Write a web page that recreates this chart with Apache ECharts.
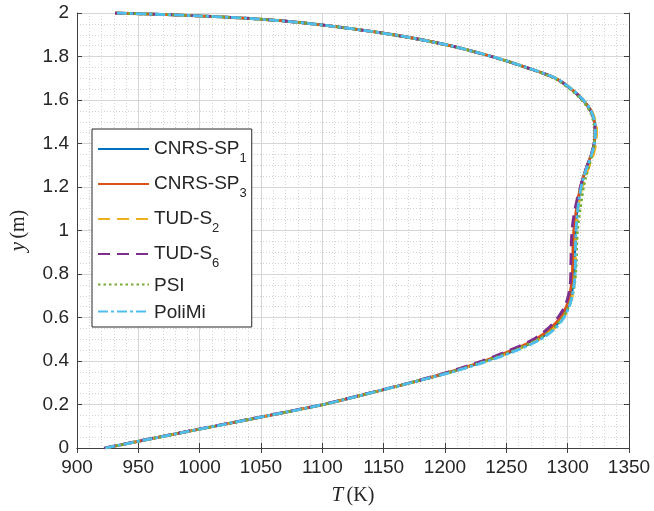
<!DOCTYPE html>
<html>
<head>
<meta charset="utf-8">
<script src="https://cdn.jsdelivr.net/npm/echarts@6/dist/echarts.min.js"></script>
<style>
html, body { margin: 0; padding: 0; background: #fff; }
#chart { width: 654px; height: 511px; }
</style>
</head>
<body>
<div id="chart"></div>
<script>
// heights (m), shared by every profile
const heights = [0, 0.05, 0.1, 0.15, 0.2, 0.25, 0.3, 0.35, 0.4, 0.45,
    0.5, 0.55, 0.6, 0.65, 0.7, 0.75, 0.8, 0.85, 0.9, 0.95,
    1.0, 1.05, 1.1, 1.15, 1.2, 1.25, 1.3, 1.35, 1.4, 1.45,
    1.5, 1.55, 1.6, 1.65, 1.7, 1.75, 1.8, 1.85, 1.9, 1.95,
    1.975, 1.99, 2.0];

// temperatures (K) per case
const tCnrsSp1 = [923, 967, 1012, 1057, 1101, 1137, 1172, 1205, 1233, 1257,
    1276, 1288, 1295.5, 1300, 1302.8, 1304.3, 1305.2, 1305.5, 1305.6, 1305.8,
    1306.1, 1306.9, 1307.8, 1309, 1310.7, 1313, 1316, 1319.3, 1321.6, 1322.4,
    1321.8, 1318.8, 1312.5, 1303, 1290, 1266, 1238, 1204, 1158, 1092,
    1040, 985, 931];
const tCnrsSp3 = [923, 967, 1012, 1057, 1101, 1137, 1172, 1204, 1232, 1255,
    1274, 1286, 1294, 1299, 1301.5, 1303, 1303.8, 1304, 1304.2, 1304.5,
    1305, 1306, 1307.2, 1308.6, 1310.5, 1313, 1316, 1319.3, 1321.6, 1322.4,
    1321.8, 1318.8, 1312.5, 1303, 1290, 1266, 1238, 1204, 1158, 1092,
    1040, 985, 931];
const tTudS2 = [923, 967, 1012, 1057, 1101, 1137, 1172, 1205, 1234, 1258,
    1277, 1289, 1296.5, 1301, 1303.8, 1305.2, 1306, 1306.3, 1306.4, 1306.6,
    1306.9, 1307.6, 1308.5, 1309.8, 1311.8, 1314.5, 1317.8, 1321, 1323, 1323.6,
    1322.8, 1319.5, 1313, 1303.5, 1290.5, 1266.5, 1238.5, 1204, 1158, 1092,
    1040, 985, 931];
const tTudS6 = [922, 966, 1011, 1056, 1100, 1136, 1171, 1203, 1230, 1253,
    1272, 1284, 1292, 1297.5, 1300.5, 1302, 1302.5, 1302.6, 1302.8, 1303,
    1303.5, 1304.5, 1306, 1308, 1310.3, 1313, 1316, 1319.3, 1321.6, 1322.4,
    1321.8, 1318.8, 1312.5, 1303, 1290, 1266, 1238, 1204, 1158, 1092,
    1040, 985, 931];
const tPsi = [923, 967, 1012, 1057, 1101, 1137, 1172, 1205, 1233, 1257,
    1276, 1288.5, 1296, 1300.8, 1303.8, 1305.5, 1306.5, 1307, 1307.2, 1307.5,
    1308, 1309, 1310.2, 1311.5, 1313, 1315, 1317.5, 1320, 1321.8, 1322.2,
    1321.2, 1318, 1311.5, 1302, 1289, 1265.5, 1238, 1204, 1158, 1092,
    1040, 985, 931];
const tPoliMi = [923, 967, 1012, 1057, 1101, 1137, 1172, 1206, 1235, 1259,
    1278, 1290, 1297, 1301.3, 1303.8, 1305.2, 1306, 1306.3, 1306.3, 1306.5,
    1306.8, 1307.5, 1308.3, 1309.4, 1311, 1313.3, 1316.3, 1319.5, 1321.8, 1322.6,
    1322, 1319, 1312.8, 1303.3, 1290.3, 1266.3, 1238.3, 1204, 1158, 1092,
    1040, 985, 931];

const caseNames = ['CNRS-SP1', 'CNRS-SP3', 'TUD-S2', 'TUD-S6', 'PSI', 'PoliMi'];
const legendLabels = {
    'CNRS-SP1': '{m|CNRS-SP}{s|1}',
    'CNRS-SP3': '{m|CNRS-SP}{s|3}',
    'TUD-S2': '{m|TUD-S}{s|2}',
    'TUD-S6': '{m|TUD-S}{s|6}',
    'PSI': '{n|PSI}',
    'PoliMi': '{n|PoliMi}'
};
const caseTemps = [tCnrsSp1, tCnrsSp3, tTudS2, tTudS6, tPsi, tPoliMi];
const caseColors = ['#0072BD', '#D95319', '#EDB120', '#7E2F8E', '#77AC30', '#4DBEEE'];
const caseDash = ['solid', 'solid', [12, 7], [12, 7], [2.5, 3], [10, 3, 3, 3]];

const textColor = '#262626';
const font = 'Liberation Sans, Arial, Helvetica, sans-serif';
const serif = 'Liberation Serif, DejaVu Serif, serif';

const series = caseNames.map((name, i) => ({
    name: name,
    type: 'line',
    xAxisIndex: 0,
    yAxisIndex: 0,
    data: heights.map((h, k) => [caseTemps[i][k], h]),
    showSymbol: false,
    symbol: 'none',
    smooth: 0.3,
    lineStyle: { color: caseColors[i], width: 2.8, type: caseDash[i] },
    itemStyle: { color: caseColors[i] },
    z: 2 + i
}));

const gridLine = { show: true, lineStyle: { color: '#d6d6d6', width: 1 } };
const minorLine = { show: true, lineStyle: { color: '#d4d4d4', width: 1, type: [1, 2] } };
const frameLine = { show: true, lineStyle: { color: '#404040', width: 1 } };
const tick = { show: true, inside: true, length: 5, lineStyle: { color: '#404040' } };

const chart = echarts.init(document.getElementById('chart'));
chart.setOption({
    animation: false,
    backgroundColor: '#fff',
    grid: { left: 74, right: 25, top: 13, bottom: 63 },
    legend: {
        orient: 'vertical',
        left: 92,
        top: 129,
        data: caseNames,
        backgroundColor: '#fff',
        borderColor: '#262626',
        borderWidth: 1,
        padding: [3, 5, 3, 5],
        itemGap: 2,
        itemWidth: 51,
        itemHeight: 20,
        itemStyle: { opacity: 0 },
        lineStyle: { width: 2 },
        formatter: (name) => legendLabels[name],
        textStyle: {
            color: textColor,
            fontFamily: font,
            fontSize: 19,
            rich: {
                m: { fontFamily: font, fontSize: 19, color: textColor, lineHeight: 34, verticalAlign: 'middle' },
                s: { fontFamily: font, fontSize: 13, color: textColor, lineHeight: 14, padding: [20, 0, 0, 0], verticalAlign: 'top' },
                n: { fontFamily: font, fontSize: 19, color: textColor, lineHeight: 19, padding: [4, 0, 2, 0] }
            }
        }
    },
    xAxis: [{
        type: 'value',
        min: 900, max: 1350, interval: 50,
        position: 'bottom',
        name: '{i|T} {r|(K)}',
        nameLocation: 'middle',
        nameGap: 37,
        nameTextStyle: {
            rich: {
                i: { fontFamily: serif, fontStyle: 'italic', fontSize: 21, color: textColor },
                r: { fontFamily: serif, fontSize: 20, color: textColor }
            }
        },
        axisLine: frameLine,
        axisTick: tick,
        axisLabel: { color: textColor, fontFamily: font, fontSize: 19, margin: 10, formatter: (v) => String(v) },
        splitLine: gridLine,
        minorTick: { show: false, splitNumber: 5 },
        minorSplitLine: minorLine
    }, {
        type: 'value',
        min: 900, max: 1350, interval: 50,
        position: 'top',
        axisLine: frameLine,
        axisTick: tick,
        axisLabel: { show: false },
        splitLine: { show: false }
    }],
    yAxis: [{
        type: 'value',
        min: 0, max: 2, interval: 0.2,
        position: 'left',
        name: '{i|y} {r|(m)}',
        nameLocation: 'middle',
        nameGap: 48,
        nameTextStyle: {
            rich: {
                i: { fontFamily: serif, fontStyle: 'italic', fontSize: 21, color: textColor },
                r: { fontFamily: serif, fontSize: 20, color: textColor }
            }
        },
        axisLine: frameLine,
        axisTick: tick,
        axisLabel: {
            color: textColor, fontFamily: font, fontSize: 19, margin: 8,
            formatter: (v) => String(Math.round(v * 10) / 10)
        },
        splitLine: gridLine,
        minorTick: { show: false, splitNumber: 4 },
        minorSplitLine: minorLine
    }, {
        type: 'value',
        min: 0, max: 2, interval: 0.2,
        position: 'right',
        axisLine: frameLine,
        axisTick: tick,
        axisLabel: { show: false },
        splitLine: { show: false }
    }],
    series: series
});
</script>
</body>
</html>
